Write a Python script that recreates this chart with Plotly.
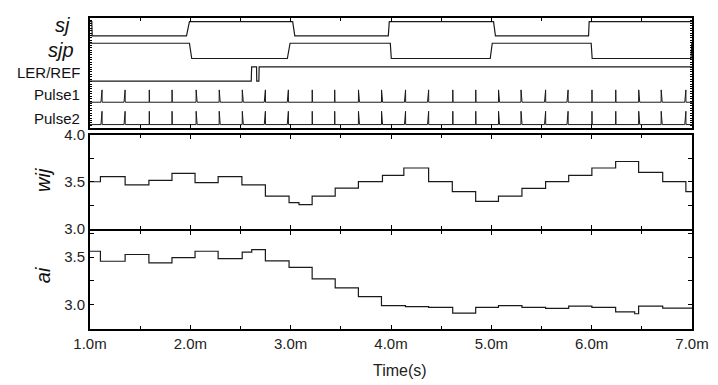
import plotly.graph_objects as go

# ---------------- data (time in ms) ----------------
T0, T1 = 1.0, 7.0

sj_init = 1
sj_edges = [(1.018, 1.022), (1.962, 1.991), (3.020, 3.041), (3.973, 3.983),
            (5.022, 5.041), (5.969, 5.975)]
sjp_init = 1
sjp_edges = [(1.991, 2.014), (2.967, 2.994), (3.993, 4.003), (4.989, 5.009),
             (5.995, 6.005), (6.990, 6.998)]
ler_init = 0
ler_edges = [(2.607, 2.611), (2.660, 2.662), (2.683, 2.686)]

pulse_times = [1.120, 1.350, 1.590, 1.817, 2.057, 2.287, 2.517, 2.748, 2.977,
               3.214, 3.438, 3.675, 3.905, 4.145, 4.375, 4.615, 4.844, 5.071,
               5.295, 5.541, 5.765, 6.002, 6.239, 6.468, 6.692, 6.939]
pulse_slant = ['u', 'u', 'n', 'n', 'd', 'd', 'd', 'u', 'u', 'n', 'n', 'd', 'd',
               'u', 'u', 'n', 'n', 'd', 'd', 'u', 'u', 'n', 'n', 'd', 'd', 'u']

wij_times = [1.104, 1.350, 1.587, 1.817, 2.047, 2.277, 2.514, 2.748, 2.984,
             3.083, 3.214, 3.444, 3.675, 3.915, 4.128, 4.375, 4.611, 4.844,
             5.071, 5.305, 5.541, 5.771, 6.002, 6.239, 6.468, 6.708, 6.939]
wij_values = [3.50, 3.554, 3.467, 3.515, 3.588, 3.49, 3.554, 3.467, 3.347,
              3.278, 3.258, 3.347, 3.433, 3.502, 3.567, 3.646, 3.502, 3.395,
              3.292, 3.347, 3.43, 3.502, 3.567, 3.646, 3.715, 3.60, 3.502, 3.395]

ai_times = [1.104, 1.350, 1.587, 1.817, 2.047, 2.277, 2.517, 2.612, 2.748,
            2.984, 3.214, 3.444, 3.675, 3.905, 4.144, 4.375, 4.615, 4.844,
            5.071, 5.305, 5.541, 5.771, 6.002, 6.239, 6.429, 6.468, 6.708]
ai_values = [3.561, 3.456, 3.527, 3.439, 3.493, 3.561, 3.483, 3.551, 3.578,
             3.459, 3.391, 3.272, 3.177, 3.085, 2.99, 2.98, 2.972, 2.912,
             2.972, 2.99, 2.972, 2.962, 2.985, 2.972, 2.925, 2.905, 2.985, 2.965]

x_tickvals = [1, 2, 3, 4, 5, 6, 7]
x_ticktext = ['1.0m', '2.0m', '3.0m', '4.0m', '5.0m', '6.0m', '7.0m']
digital_labels = ['sj', 'sjp', 'LER/REF', 'Pulse1', 'Pulse2']

# ---------------- helpers ----------------
def digital(init, edges):
    xs, ys, lvl = [T0], [init], init
    for a, b in edges:
        xs += [a, b]
        ys += [lvl, 1 - lvl]
        lvl = 1 - lvl
    xs.append(T1)
    ys.append(lvl)
    return xs, ys


def pulses(times, slants, w=0.011):
    xs, ys = [T0], [0]
    for t, s in zip(times, slants):
        if s == 'u':
            pts = [(t - w, 0), (t, 1), (t + 0.001, 0)]
        elif s == 'd':
            pts = [(t, 0), (t + 0.001, 1), (t + w, 0)]
        else:
            pts = [(t, 0), (t + 0.001, 1), (t + 0.003, 0)]
        for px, py in pts:
            xs.append(px)
            ys.append(py)
    xs.append(T1)
    ys.append(0)
    return xs, ys


def steps(times, values):
    return [T0] + times + [T1], values + [values[-1]]


FONT = "Liberation Sans, Arial, sans-serif"
LC = '#1a1a1a'

fig = go.Figure()

# digital panel: (base, amplitude) in panel pixel units
lanes = [(94.7, 14.6), (71.3, 15.7), (48.0, 14.7), (26.3, 12.7), (3.3, 13.7)]
sigs = [digital(sj_init, sj_edges), digital(sjp_init, sjp_edges),
        digital(ler_init, ler_edges), pulses(pulse_times, pulse_slant),
        pulses(pulse_times, pulse_slant)]
widths = [1.2, 1.2, 1.2, 1.0, 1.0]
for (base, amp), (xs, ys), lw in zip(lanes, sigs, widths):
    fig.add_trace(go.Scatter(x=xs, y=[base + amp * v for v in ys], mode='lines',
                             line=dict(color=LC, width=lw), xaxis='x', yaxis='y',
                             showlegend=False, hoverinfo='skip'))

wx, wy = steps(wij_times, wij_values)
fig.add_trace(go.Scatter(x=wx, y=wy, mode='lines', line=dict(color=LC, width=1.2, shape='hv'),
                         xaxis='x2', yaxis='y2', showlegend=False))
ax, ay = steps(ai_times, ai_values)
fig.add_trace(go.Scatter(x=ax, y=ay, mode='lines', line=dict(color=LC, width=1.2, shape='hv'),
                         xaxis='x3', yaxis='y3', showlegend=False))

common_x = dict(range=[T0, T1], showgrid=False, zeroline=False, showline=True,
                linecolor='black', linewidth=2, mirror='allticks', ticks='inside',
                ticklen=4, tickwidth=1, tickcolor='black', tickvals=x_tickvals,
                minor=dict(dtick=0.5, tick0=0, ticks='inside', ticklen=3, tickcolor='black'))
common_y = dict(showgrid=False, zeroline=False, showline=True, linecolor='black',
                linewidth=2, mirror='allticks', ticks='inside', ticklen=4, tickwidth=1,
                tickcolor='black', tickfont=dict(family=FONT, size=15, color='#222'))

fig.update_layout(
    width=718, height=385,
    margin=dict(l=90, r=20, t=9, b=56),
    paper_bgcolor='white', plot_bgcolor='white',
    xaxis=dict(common_x, anchor='y', domain=[0, 1], showticklabels=False),
    xaxis2=dict(common_x, anchor='y2', domain=[0, 1], showticklabels=False),
    xaxis3=dict(common_x, anchor='y3', domain=[0, 1], showticklabels=True,
                ticktext=x_ticktext, tickfont=dict(family=FONT, size=15, color='#222')),
    yaxis=dict(common_y, domain=[0.647, 1.0], range=[0, 113], showticklabels=False,
               dtick=2.5, tick0=0, ticklen=2),
    yaxis2=dict(common_y, domain=[0.322, 0.625], range=[3.0, 4.0],
                tickvals=[3.0, 3.5, 4.0], ticktext=['3.0', '3.5', '4.0'],
                minor=dict(dtick=0.25, tick0=0, ticks='inside', ticklen=4, tickcolor='black')),
    yaxis3=dict(common_y, domain=[0.0, 0.3156], range=[2.745, 3.775],
                tickvals=[3.0, 3.5], ticktext=['3.0', '3.5'],
                minor=dict(dtick=0.25, tick0=0, ticks='inside', ticklen=4, tickcolor='black')),
)

# digital lane labels
label_pos = [(106, 20, 'italic'), (80, 20, 'italic'), (57, 15, 'normal'),
             (34, 15, 'normal'), (10, 15, 'normal')]
label_x = [-0.03, -0.023, -0.013, -0.013, -0.013]
for txt, (yy, sz, st), lx in zip(digital_labels, label_pos, label_x):
    fig.add_annotation(text=txt, xref='paper', yref='y', x=lx, y=yy,
                       xanchor='right', yanchor='middle', showarrow=False,
                       font=dict(family=FONT, size=sz, color='#111', style=st))

fig.add_annotation(text='wij', xref='paper', yref='y2', x=-0.078, y=3.52, textangle=-90,
                   xanchor='center', yanchor='middle', showarrow=False,
                   font=dict(family=FONT, size=20, color='#111', style='italic'))
fig.add_annotation(text='ai', xref='paper', yref='y3', x=-0.078, y=3.31, textangle=-90,
                   xanchor='center', yanchor='middle', showarrow=False,
                   font=dict(family=FONT, size=20, color='#111', style='italic'))
fig.add_annotation(text='Time(s)', xref='x3', yref='paper', x=4.09, y=-0.135,
                   xanchor='center', yanchor='middle', showarrow=False,
                   font=dict(family=FONT, size=16, color='#222'))

fig.write_html("out.html")
